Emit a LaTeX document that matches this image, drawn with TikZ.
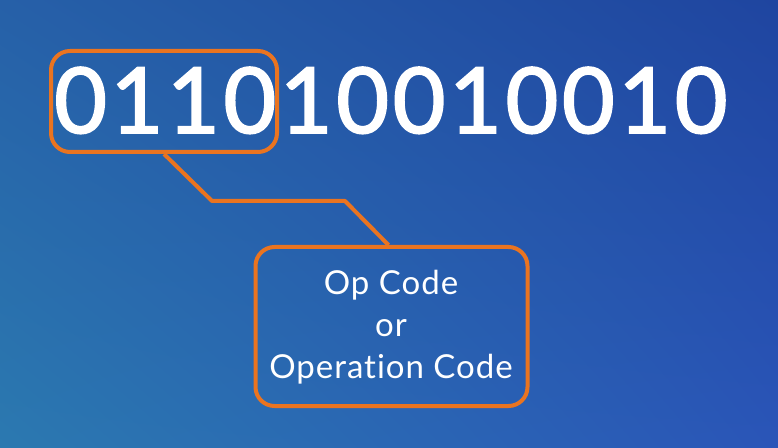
\documentclass[tikz,border=0pt]{standalone}
\usepackage{fontspec}
\usetikzlibrary{shadings,calc}
\setmainfont{Lato}[Ligatures=NoCommon,LetterSpace=3]
\newfontfamily\digitfont{Lato}[LetterSpace=4,FakeBold=2]
\definecolor{callout}{HTML}{EA7420}
\definecolor{bgUL}{HTML}{2660A8}
\definecolor{bgUR}{HTML}{1F45A0}
\definecolor{bgLL}{HTML}{2B79B0}
\definecolor{bgLR}{HTML}{2A55B8}
\begin{document}
\begin{tikzpicture}[x=1pt,y=1pt,
  framebox/.style={draw=callout,line width=4pt,rounded corners=19pt},
  leader/.style={draw=callout,line width=4pt,line join=round}]
\useasboundingbox (0,0) rectangle (778,447);
% background
\shade[upper left=bgUL,upper right=bgUR,lower left=bgLL,lower right=bgLR]
  (0,0) rectangle (778,447);
% binary word
\node[anchor=base west,inner sep=0pt,text=white,font=\digitfont\fontsize{91}{91}\selectfont]
  (bits) at (54,314) {011010010010};
% frame around the op code bits
\node[framebox,minimum width=226pt,minimum height=101pt] (opbox) at (164,345.5) {};
% description box
\node[framebox,minimum width=272pt,minimum height=159pt] (desc) at (391.5,120.5) {};
\node[text=white,align=center,font=\fontsize{33}{42}\selectfont] (desctext) at (391,119.5)
  {Op Code\\or\\Operation Code};
% leader line
\coordinate (s) at ($(opbox.south west)+(115,0)$);
\coordinate (a) at (212,246);
\coordinate (b) at (345,246);
\coordinate (e) at ($(desc.north west)+(135,0)$);
\draw[leader] (s) -- (a) -- (b) -- (e);
\end{tikzpicture}
\end{document}
